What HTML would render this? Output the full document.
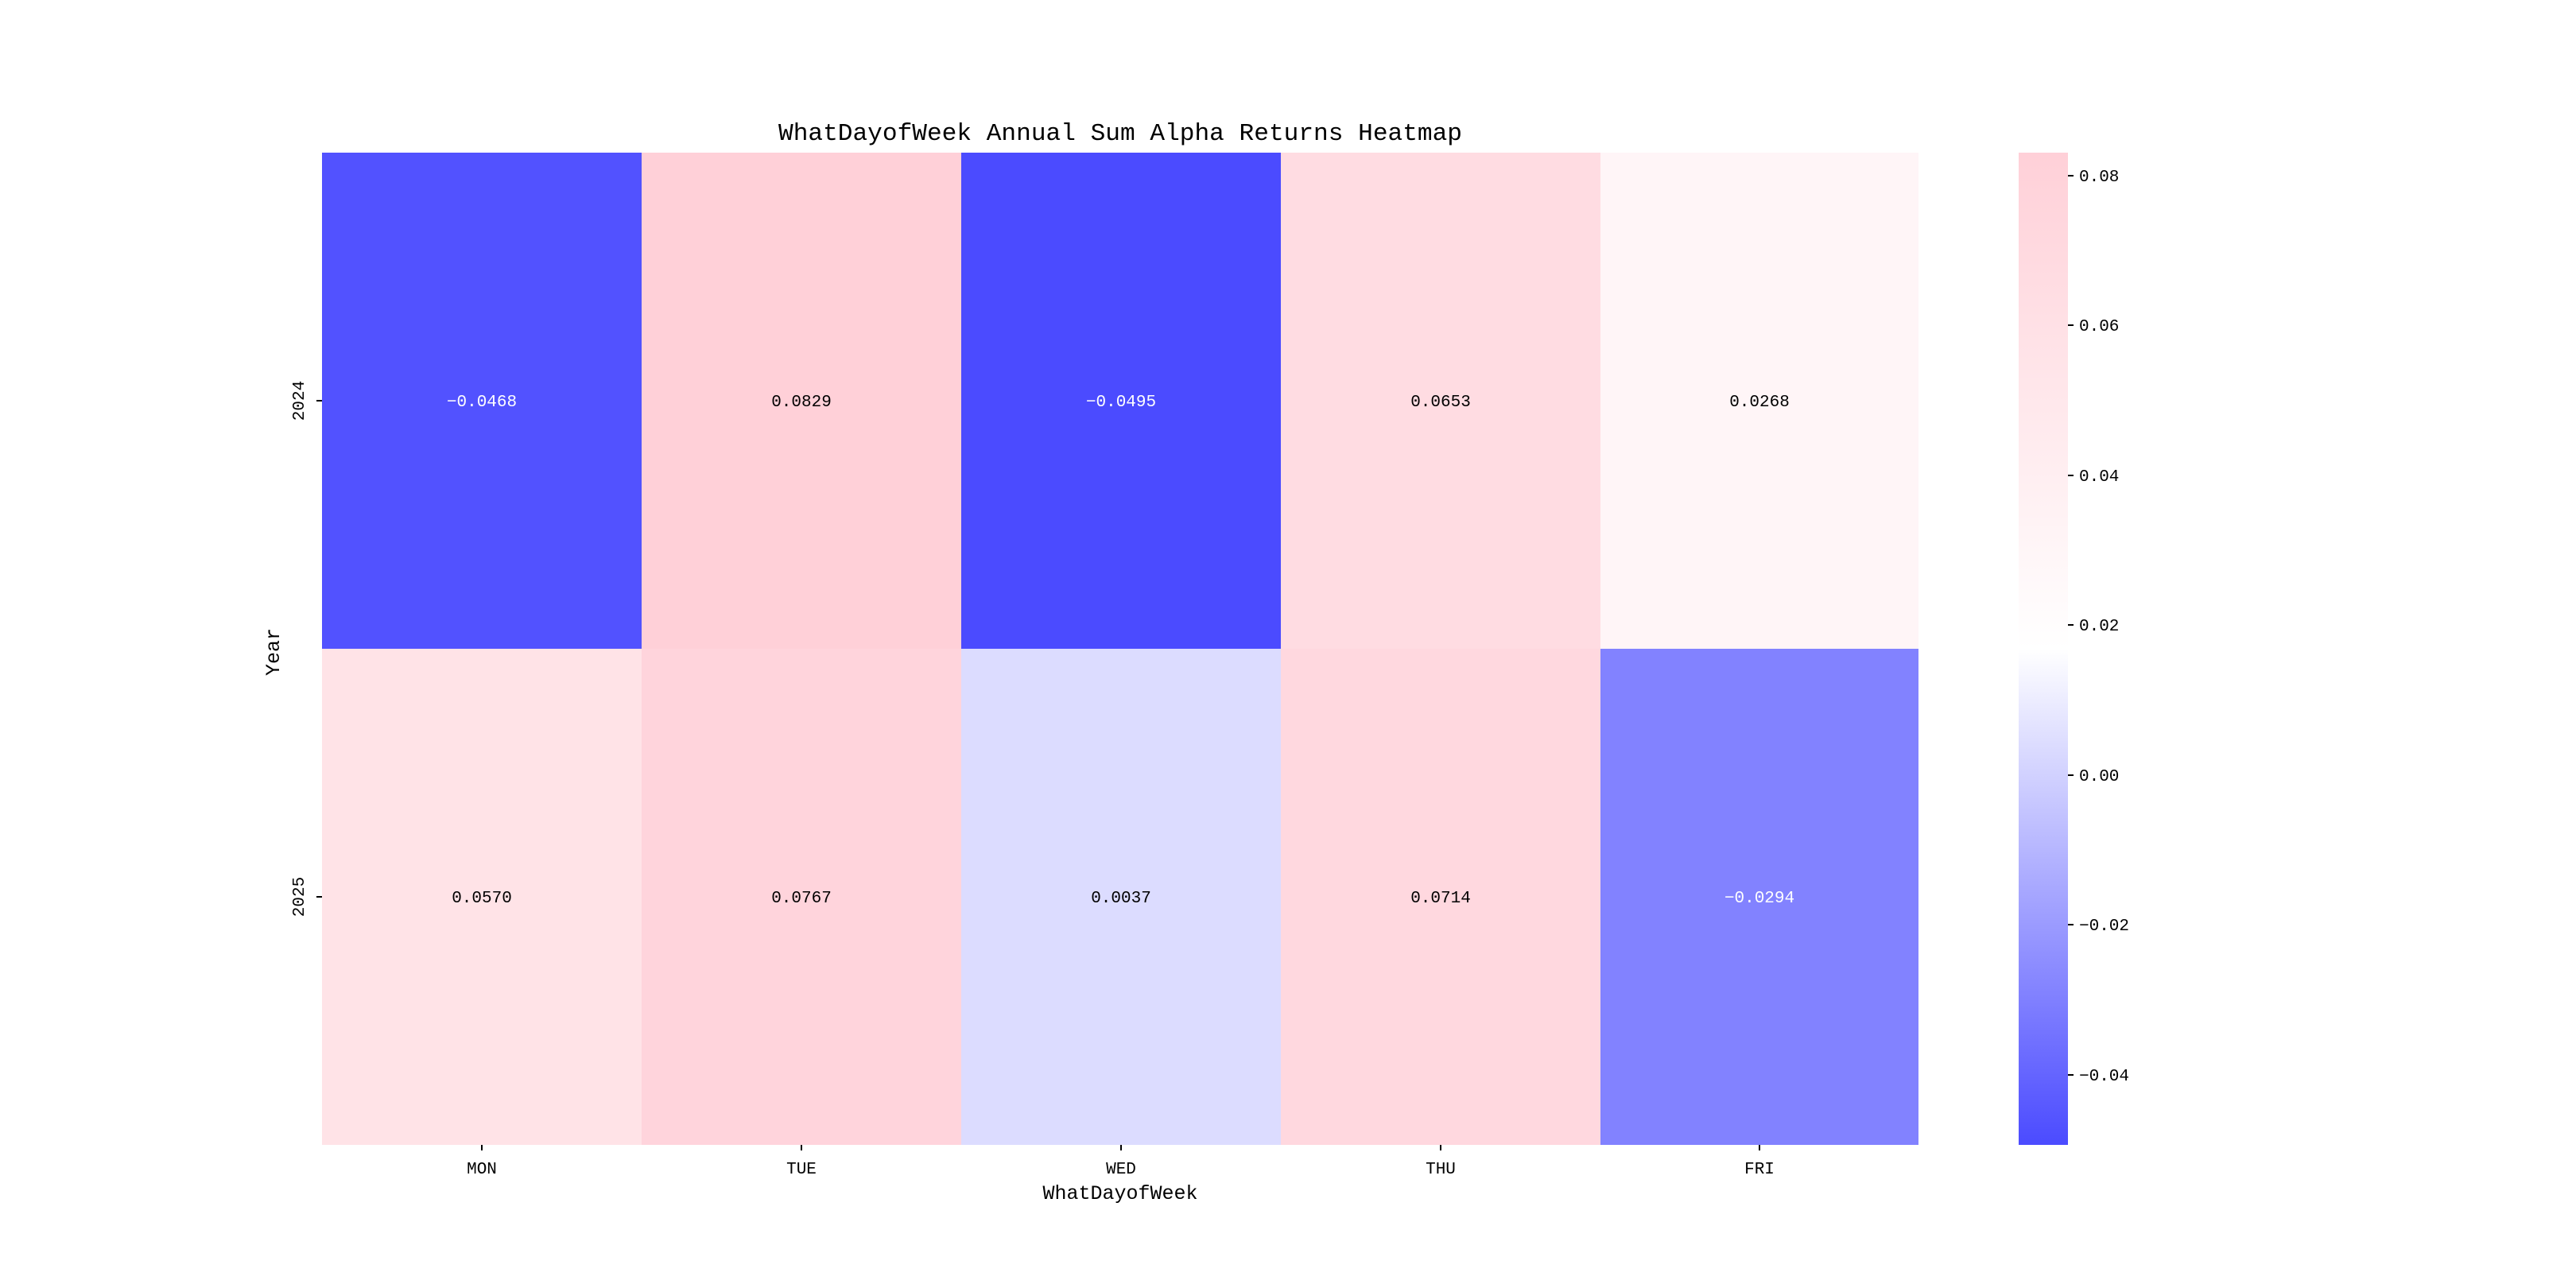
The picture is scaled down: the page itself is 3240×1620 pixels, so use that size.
<!DOCTYPE html>
<html><head><style>body{margin:0;background:#fff}svg{display:block}text{font-family:"Liberation Mono","WenQuanYi Zen Hei",monospace}</style></head><body>
<svg width="3240" height="1620" viewBox="0 0 3240 1620" xmlns="http://www.w3.org/2000/svg">
<defs><linearGradient id="cb" x1="0" y1="0" x2="0" y2="1">
<stop offset="0" stop-color="#ffd0d8"/><stop offset="0.5" stop-color="#ffffff"/><stop offset="1" stop-color="#4b4bff"/></linearGradient></defs>
<rect width="3240" height="1620" fill="#fff"/>
<text x="1409" y="176" font-size="31" text-anchor="middle" textLength="860" lengthAdjust="spacingAndGlyphs">WhatDayofWeek Annual Sum Alpha Returns Heatmap</text>
<g shape-rendering="crispEdges">
<rect x="405" y="192" width="402" height="624" fill="#5252ff"/>
<rect x="807" y="192" width="402" height="624" fill="#ffd0d8"/>
<rect x="1209" y="192" width="402" height="624" fill="#4b4bff"/>
<rect x="1611" y="192" width="402" height="624" fill="#ffdce2"/>
<rect x="2013" y="192" width="400" height="624" fill="#fff5f7"/>
<rect x="405" y="816" width="402" height="624" fill="#ffe3e7"/>
<rect x="807" y="816" width="402" height="624" fill="#ffd4dc"/>
<rect x="1209" y="816" width="402" height="624" fill="#dcdcff"/>
<rect x="1611" y="816" width="402" height="624" fill="#ffd8df"/>
<rect x="2013" y="816" width="400" height="624" fill="#8282ff"/>
<rect x="2539" y="192" width="62" height="1248" fill="url(#cb)"/>
</g>
<g font-size="21" text-anchor="middle">
<text x="606" y="511" fill="#fff">−0.0468</text>
<text x="1008" y="511">0.0829</text>
<text x="1410" y="511" fill="#fff">−0.0495</text>
<text x="1812" y="511">0.0653</text>
<text x="2213" y="511">0.0268</text>
<text x="606" y="1135">0.0570</text>
<text x="1008" y="1135">0.0767</text>
<text x="1410" y="1135">0.0037</text>
<text x="1812" y="1135">0.0714</text>
<text x="2213" y="1135" fill="#fff">−0.0294</text>
</g>
<g stroke="#000" stroke-width="2">
<line x1="606" y1="1440" x2="606" y2="1447"/><line x1="1008" y1="1440" x2="1008" y2="1447"/><line x1="1410" y1="1440" x2="1410" y2="1447"/><line x1="1812" y1="1440" x2="1812" y2="1447"/><line x1="2213" y1="1440" x2="2213" y2="1447"/>
<line x1="398" y1="504" x2="405" y2="504"/><line x1="398" y1="1128" x2="405" y2="1128"/>
<line x1="2601" y1="221" x2="2608" y2="221"/><line x1="2601" y1="409" x2="2608" y2="409"/><line x1="2601" y1="598" x2="2608" y2="598"/><line x1="2601" y1="786" x2="2608" y2="786"/><line x1="2601" y1="975" x2="2608" y2="975"/><line x1="2601" y1="1163" x2="2608" y2="1163"/><line x1="2601" y1="1352" x2="2608" y2="1352"/>
</g>
<g font-size="21" text-anchor="middle">
<text x="606" y="1476">MON</text><text x="1008" y="1476">TUE</text><text x="1410" y="1476">WED</text><text x="1812" y="1476">THU</text><text x="2213" y="1476">FRI</text>
<text transform="translate(382,504) rotate(-90)">2024</text>
<text transform="translate(382,1128) rotate(-90)">2025</text>
</g>
<text x="1409" y="1508" font-size="25" text-anchor="middle">WhatDayofWeek</text>
<text transform="translate(351,820) rotate(-90)" font-size="25" text-anchor="middle">Year</text>
<g font-size="21">
<text x="2615" y="228">0.08</text><text x="2615" y="416">0.06</text><text x="2615" y="605">0.04</text><text x="2615" y="793">0.02</text><text x="2615" y="982">0.00</text><text x="2615" y="1170">−0.02</text><text x="2615" y="1359">−0.04</text>
</g>
</svg>
</body></html>
